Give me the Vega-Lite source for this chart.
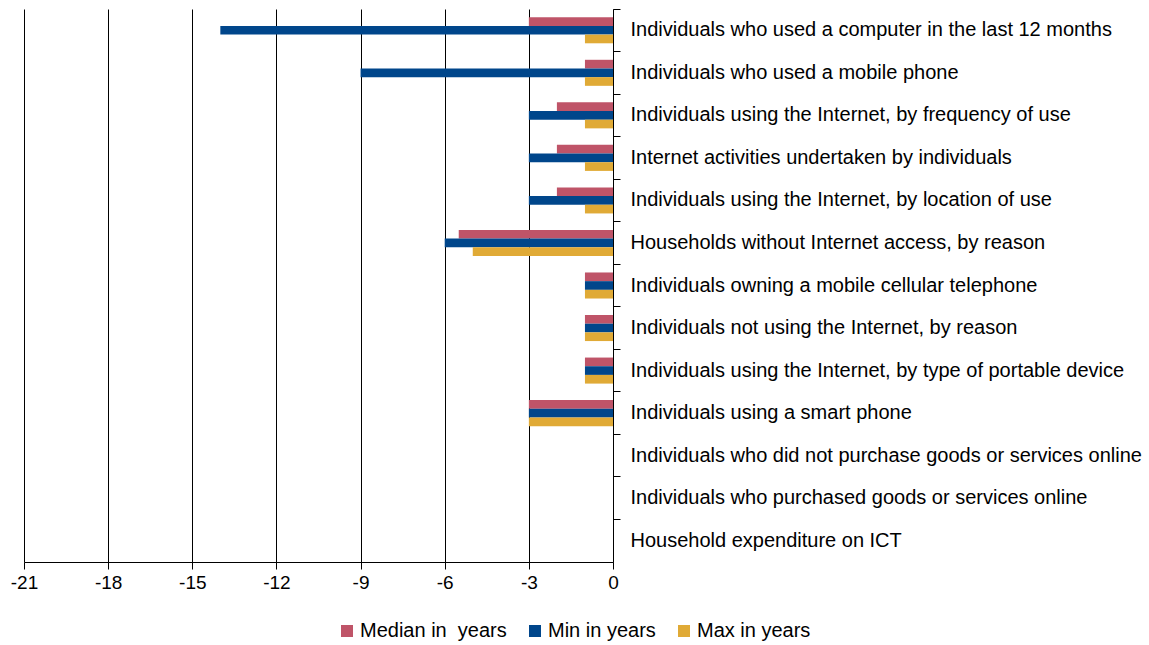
{
  "$schema": "https://vega.github.io/schema/vega-lite/v6.json",
  "width": 589,
  "height": 553,
  "autosize": {"type": "none"},
  "padding": {"left": 24, "top": 9, "right": 536, "bottom": 83},
  "background": "white",
  "config": {
    "font": "Liberation Sans",
    "view": {"stroke": null}
  },
  "data": {
    "values": [
      {"indicator": "Individuals who used a computer in the last 12 months", "series": "Median in  years", "value": -3},
      {"indicator": "Individuals who used a computer in the last 12 months", "series": "Min in years", "value": -14},
      {"indicator": "Individuals who used a computer in the last 12 months", "series": "Max in years", "value": -1},
      {"indicator": "Individuals who used a mobile phone", "series": "Median in  years", "value": -1},
      {"indicator": "Individuals who used a mobile phone", "series": "Min in years", "value": -9},
      {"indicator": "Individuals who used a mobile phone", "series": "Max in years", "value": -1},
      {"indicator": "Individuals using the Internet, by frequency of use", "series": "Median in  years", "value": -2},
      {"indicator": "Individuals using the Internet, by frequency of use", "series": "Min in years", "value": -3},
      {"indicator": "Individuals using the Internet, by frequency of use", "series": "Max in years", "value": -1},
      {"indicator": "Internet activities undertaken by individuals", "series": "Median in  years", "value": -2},
      {"indicator": "Internet activities undertaken by individuals", "series": "Min in years", "value": -3},
      {"indicator": "Internet activities undertaken by individuals", "series": "Max in years", "value": -1},
      {"indicator": "Individuals using the Internet, by location of use", "series": "Median in  years", "value": -2},
      {"indicator": "Individuals using the Internet, by location of use", "series": "Min in years", "value": -3},
      {"indicator": "Individuals using the Internet, by location of use", "series": "Max in years", "value": -1},
      {"indicator": "Households without Internet access, by reason", "series": "Median in  years", "value": -5.5},
      {"indicator": "Households without Internet access, by reason", "series": "Min in years", "value": -6},
      {"indicator": "Households without Internet access, by reason", "series": "Max in years", "value": -5},
      {"indicator": "Individuals owning a mobile cellular telephone", "series": "Median in  years", "value": -1},
      {"indicator": "Individuals owning a mobile cellular telephone", "series": "Min in years", "value": -1},
      {"indicator": "Individuals owning a mobile cellular telephone", "series": "Max in years", "value": -1},
      {"indicator": "Individuals not using the Internet, by reason", "series": "Median in  years", "value": -1},
      {"indicator": "Individuals not using the Internet, by reason", "series": "Min in years", "value": -1},
      {"indicator": "Individuals not using the Internet, by reason", "series": "Max in years", "value": -1},
      {"indicator": "Individuals using the Internet, by type of portable device", "series": "Median in  years", "value": -1},
      {"indicator": "Individuals using the Internet, by type of portable device", "series": "Min in years", "value": -1},
      {"indicator": "Individuals using the Internet, by type of portable device", "series": "Max in years", "value": -1},
      {"indicator": "Individuals using a smart phone", "series": "Median in  years", "value": -3},
      {"indicator": "Individuals using a smart phone", "series": "Min in years", "value": -3},
      {"indicator": "Individuals using a smart phone", "series": "Max in years", "value": -3}
    ]
  },
  "mark": {"type": "bar"},
  "encoding": {
    "y": {
      "field": "indicator",
      "type": "nominal",
      "scale": {
        "domain": [
          "Individuals who used a computer in the last 12 months",
          "Individuals who used a mobile phone",
          "Individuals using the Internet, by frequency of use",
          "Internet activities undertaken by individuals",
          "Individuals using the Internet, by location of use",
          "Households without Internet access, by reason",
          "Individuals owning a mobile cellular telephone",
          "Individuals not using the Internet, by reason",
          "Individuals using the Internet, by type of portable device",
          "Individuals using a smart phone",
          "Individuals who did not purchase goods or services online",
          "Individuals who purchased goods or services online",
          "Household expenditure on ICT"
        ],
        "paddingInner": 0,
        "paddingOuter": 0
      },
      "axis": {
        "orient": "right",
        "title": null,
        "bandPosition": 0,
        "domainColor": "#000000",
        "domainWidth": 1,
        "tickColor": "#000000",
        "tickSize": 7,
        "labelPadding": 10,
        "labelFontSize": 20,
        "labelColor": "#000000",
        "labelLimit": 600,
        "grid": false
      }
    },
    "yOffset": {
      "field": "series",
      "type": "nominal",
      "scale": {
        "domain": ["Median in  years", "Min in years", "Max in years"],
        "paddingInner": 0,
        "paddingOuter": 0.95
      }
    },
    "x": {
      "field": "value",
      "type": "quantitative",
      "scale": {"domain": [-21, 0], "nice": false, "zero": false},
      "axis": {
        "title": null,
        "values": [-21, -18, -15, -12, -9, -6, -3, 0],
        "labelExpr": "'' + datum.value",
        "grid": true,
        "gridColor": "#000000",
        "gridOpacity": 1,
        "gridWidth": 1,
        "domainColor": "#000000",
        "tickColor": "#000000",
        "tickSize": 7,
        "labelPadding": 4,
        "labelFontSize": 19,
        "labelColor": "#000000",
        "labelFlush": false
      }
    },
    "color": {
      "field": "series",
      "type": "nominal",
      "scale": {
        "domain": ["Median in  years", "Min in years", "Max in years"],
        "range": ["#BF5468", "#00468B", "#E0AA36"]
      },
      "legend": {
        "title": null,
        "orient": "none",
        "direction": "horizontal",
        "legendX": 313,
        "legendY": 612,
        "labelExpr": "replace(datum.label, '  ', ' \u00a0')",
        "symbolType": "square",
        "symbolSize": 144,
        "symbolStrokeWidth": 0,
        "labelFontSize": 20,
        "labelColor": "#000000",
        "labelOffset": 3,
        "columnPadding": 18,
        "padding": 0
      }
    }
  }
}
